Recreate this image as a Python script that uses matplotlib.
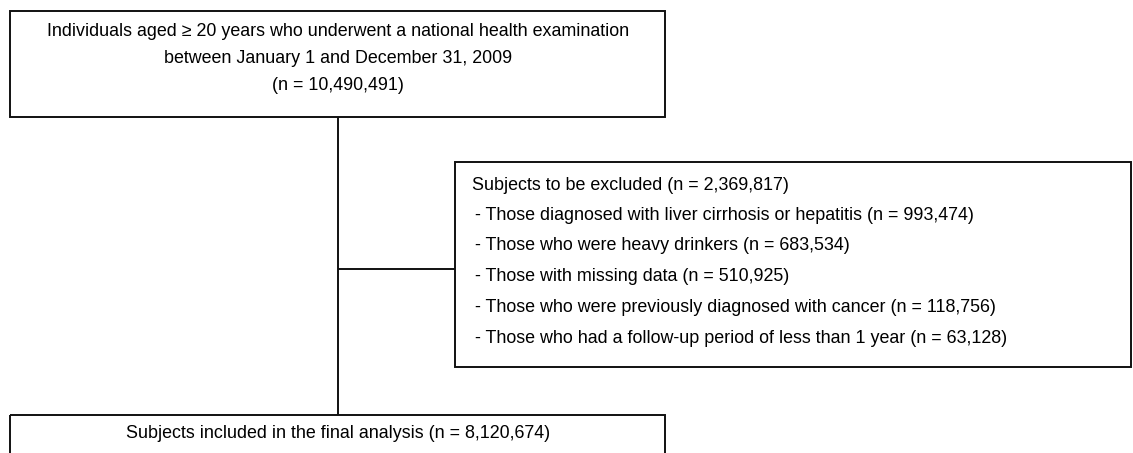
import matplotlib
matplotlib.use("Agg")
import matplotlib.pyplot as plt
from matplotlib.patches import Rectangle

plt.rcParams["font.family"] = ["Liberation Sans", "DejaVu Sans"]

# data
n_total = 10490491
n_excluded = 2369817
n_final = 8120674
exclusion_reasons = [
    "Those diagnosed with liver cirrhosis or hepatitis",
    "Those who were heavy drinkers",
    "Those with missing data",
    "Those who were previously diagnosed with cancer",
    "Those who had a follow-up period of less than 1 year",
]
exclusion_counts = [993474, 683534, 510925, 118756, 63128]

top_lines = [
    "Individuals aged \u2265 20 years who underwent a national health examination",
    "between January 1 and December 31, 2009",
    f"(n = {n_total:,})",
]

W, H = 1133, 453
fig = plt.figure(figsize=(W / 100, H / 100), dpi=100)
ax = fig.add_axes([0, 0, 1, 1])
ax.set_xlim(0, W)
ax.set_ylim(H, 0)
ax.set_axis_off()

lw = 1.4
col = "#111111"
fs = 12.9


def box(x0, y0, x1, y1):
    ax.add_patch(Rectangle((x0, y0), x1 - x0, y1 - y0, fill=False,
                           edgecolor=col, lw=lw, clip_on=False))


# top box
box(10, 11, 665, 117)
for i, t in enumerate(top_lines):
    ax.text(338, 32 + i * 26.5, t, ha="center", va="center", fontsize=fs)

# trunk and branch
ax.plot([338, 338], [117, 415], color=col, lw=lw, solid_capstyle="butt")
ax.plot([338, 455], [269, 269], color=col, lw=lw, solid_capstyle="butt")

# exclusion box
box(455, 162, 1131, 367)
ax.text(472, 185, f"Subjects to be excluded (n = {n_excluded:,})",
        ha="left", va="center", fontsize=fs)
for i, (r, c) in enumerate(zip(exclusion_reasons, exclusion_counts)):
    ax.text(475, 215 + i * 30.8, f"- {r} (n = {c:,})",
            ha="left", va="center", fontsize=fs)

# final box (cut off at bottom)
box(10, 415, 665, 470)
ax.text(338, 434, f"Subjects included in the final analysis (n = {n_final:,})",
        ha="center", va="center", fontsize=fs)

fig.savefig("out.png", dpi=100)
plt.close(fig)
